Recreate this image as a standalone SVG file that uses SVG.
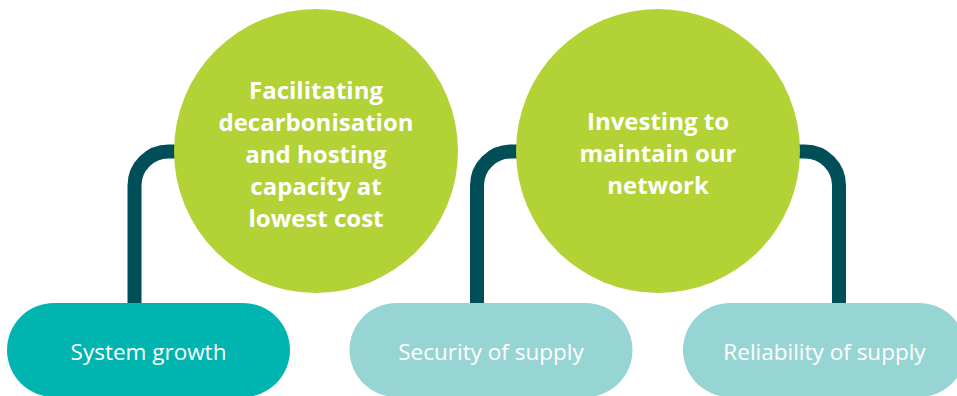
<svg xmlns="http://www.w3.org/2000/svg" width="957" height="396" viewBox="0 0 957 396">
<style>
.circle{fill:#B2D235}
.conn{fill:none;stroke:#004E57;stroke-width:14}
.pill1{fill:#00B5B0}
.pill2{fill:#97D5D4}
.ct{font-family:"Open Sans","Liberation Sans",sans-serif;font-weight:700;font-size:24px;fill:#FFFFFF;text-anchor:middle}
.pt{font-family:"Open Sans","Liberation Sans",sans-serif;font-size:22.5px;fill:#FFFFFF;text-anchor:middle}
</style>
<rect width="957" height="396" fill="#FFFFFF"/>
<g id="connectors">
<path class="conn" d="M 200 151.5 H 168.5 A 34 34 0 0 0 134.5 185.5 V 310"/>
<path class="conn" d="M 540 151.5 H 511 A 34 34 0 0 0 477 185.5 V 310"/>
<path class="conn" d="M 780 151.5 H 805 A 34 34 0 0 1 839 185.5 V 310"/>
</g>
<g id="node-decarbonisation">
<circle class="circle" cx="316" cy="151" r="142"/>
<text class="ct" x="316" y="99">Facilitating</text>
<text class="ct" x="316" y="131">decarbonisation</text>
<text class="ct" x="316" y="163">and hosting</text>
<text class="ct" x="316" y="195">capacity at</text>
<text class="ct" x="316" y="227">lowest cost</text>
</g>
<g id="node-investing">
<circle class="circle" cx="658" cy="151" r="142"/>
<text class="ct" x="658" y="130">Investing to</text>
<text class="ct" x="658" y="162">maintain our</text>
<text class="ct" x="658" y="194">network</text>
</g>
<g id="node-system-growth">
<rect class="pill1" x="7" y="303" width="283" height="94" rx="47"/>
<text class="pt" x="148.5" y="360">System growth</text>
</g>
<g id="node-security">
<rect class="pill2" x="349.5" y="303" width="283" height="94" rx="47"/>
<text class="pt" x="491" y="360">Security of supply</text>
</g>
<g id="node-reliability">
<rect class="pill2" x="683" y="303" width="283" height="94" rx="47"/>
<text class="pt" x="824.5" y="360">Reliability of supply</text>
</g>
</svg>
